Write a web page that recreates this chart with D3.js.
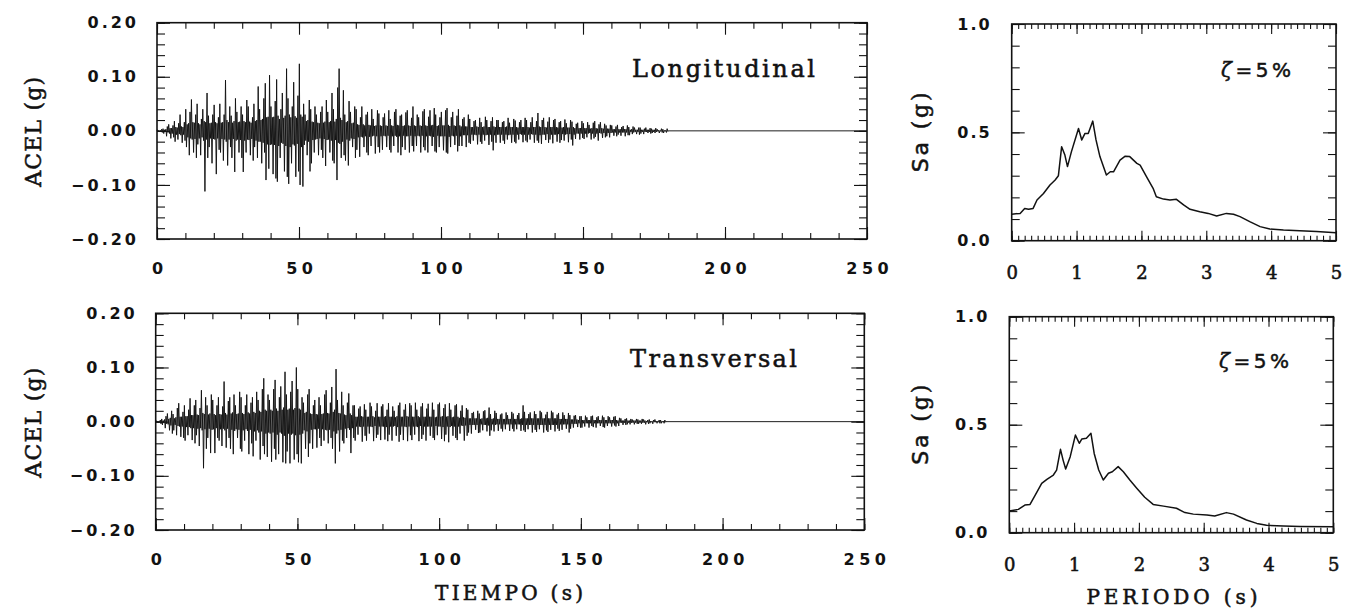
<!DOCTYPE html>
<html>
<head>
<meta charset="utf-8">
<script src="https://cdn.jsdelivr.net/npm/d3@7"></script>
<style>
  html, body { margin: 0; padding: 0; background: #ffffff; }
  svg { display: block; }
</style>
</head>
<body>
<script>
// ---------------------------------------------------------------
// Acceleration records (g), one window per second from t = 0 to 180 s:
//   *Up   – largest positive peak in the window
//   *Down – largest negative peak in the window (magnitude)
//   *Core – typical amplitude of the remaining oscillations
// After 180 s the record is quiet until its end.
// ---------------------------------------------------------------
const recordEnd = 250;

const longUp = [
  0.002,0.003,0.004,0.008,0.012,0.010,0.018,0.014,0.030,0.016,
  0.040,0.035,0.058,0.030,0.050,0.022,0.040,0.070,0.028,0.030,
  0.048,0.025,0.050,0.030,0.094,0.045,0.028,0.060,0.035,0.045,
  0.030,0.057,0.045,0.025,0.050,0.082,0.040,0.060,0.088,0.103,
  0.045,0.055,0.095,0.040,0.070,0.115,0.060,0.045,0.090,0.065,
  0.124,0.050,0.030,0.057,0.040,0.045,0.030,0.035,0.045,0.057,
  0.035,0.070,0.040,0.080,0.115,0.075,0.030,0.055,0.035,0.045,
  0.040,0.025,0.045,0.030,0.035,0.040,0.022,0.038,0.032,0.025,
  0.032,0.038,0.022,0.035,0.040,0.028,0.030,0.034,0.038,0.024,
  0.045,0.030,0.025,0.036,0.040,0.026,0.038,0.042,0.030,0.025,
  0.035,0.038,0.042,0.025,0.035,0.028,0.040,0.022,0.025,0.030,
  0.022,0.018,0.020,0.024,0.016,0.026,0.020,0.018,0.025,0.020,
  0.020,0.016,0.018,0.024,0.015,0.022,0.019,0.016,0.020,0.024,
  0.020,0.016,0.025,0.018,0.033,0.020,0.024,0.017,0.025,0.020,
  0.022,0.016,0.018,0.021,0.014,0.020,0.017,0.013,0.015,0.018,
  0.014,0.016,0.011,0.015,0.018,0.012,0.016,0.013,0.010,0.011,
  0.010,0.008,0.011,0.007,0.009,0.010,0.007,0.008,0.006,0.006,
  0.006,0.004,0.006,0.005,0.004,0.005,0.003,0.004,0.003,0.004
];
const longDown = [
  0.002,0.003,0.005,0.010,0.014,0.012,0.020,0.016,0.022,0.018,
  0.030,0.045,0.040,0.050,0.025,0.045,0.112,0.050,0.030,0.060,
  0.080,0.035,0.040,0.055,0.064,0.030,0.050,0.076,0.040,0.050,
  0.076,0.040,0.045,0.055,0.030,0.050,0.060,0.040,0.091,0.070,
  0.080,0.088,0.094,0.050,0.075,0.085,0.098,0.060,0.085,0.075,
  0.100,0.103,0.045,0.075,0.060,0.040,0.045,0.035,0.050,0.065,
  0.040,0.055,0.060,0.091,0.050,0.045,0.055,0.064,0.030,0.050,
  0.035,0.048,0.030,0.040,0.045,0.028,0.042,0.030,0.040,0.035,
  0.030,0.035,0.040,0.028,0.040,0.045,0.030,0.035,0.040,0.028,
  0.038,0.028,0.040,0.030,0.036,0.040,0.028,0.038,0.040,0.030,
  0.036,0.040,0.042,0.030,0.026,0.038,0.028,0.028,0.030,0.022,
  0.024,0.018,0.025,0.020,0.024,0.018,0.026,0.020,0.036,0.022,
  0.022,0.018,0.024,0.016,0.022,0.020,0.023,0.016,0.021,0.018,
  0.021,0.016,0.022,0.018,0.022,0.024,0.017,0.022,0.016,0.023,
  0.020,0.022,0.017,0.018,0.021,0.016,0.027,0.015,0.016,0.013,
  0.015,0.012,0.016,0.014,0.011,0.018,0.013,0.012,0.010,0.012,
  0.009,0.010,0.007,0.009,0.010,0.008,0.008,0.006,0.006,0.007,
  0.005,0.006,0.004,0.005,0.004,0.004,0.004,0.003,0.004,0.003
];
const longCore = [
  0.001,0.001,0.002,0.003,0.005,0.005,0.007,0.006,0.008,0.007,
  0.012,0.014,0.016,0.015,0.014,0.012,0.018,0.016,0.014,0.015,
  0.016,0.014,0.015,0.016,0.020,0.016,0.015,0.018,0.016,0.017,
  0.018,0.016,0.017,0.015,0.018,0.020,0.020,0.022,0.025,0.026,
  0.025,0.026,0.028,0.022,0.024,0.028,0.030,0.025,0.027,0.024,
  0.030,0.026,0.018,0.020,0.017,0.016,0.015,0.014,0.015,0.017,
  0.016,0.018,0.017,0.022,0.024,0.020,0.016,0.018,0.014,0.015,
  0.012,0.011,0.012,0.010,0.011,0.010,0.009,0.010,0.010,0.009,
  0.010,0.009,0.010,0.009,0.011,0.010,0.009,0.010,0.010,0.009,
  0.010,0.009,0.010,0.009,0.010,0.009,0.010,0.011,0.009,0.010,
  0.010,0.010,0.011,0.009,0.010,0.009,0.010,0.008,0.008,0.008,
  0.007,0.007,0.008,0.007,0.007,0.008,0.007,0.007,0.008,0.007,
  0.007,0.007,0.007,0.008,0.007,0.007,0.007,0.006,0.007,0.007,
  0.007,0.006,0.007,0.007,0.008,0.007,0.007,0.006,0.007,0.007,
  0.007,0.006,0.006,0.007,0.006,0.006,0.007,0.005,0.005,0.005,
  0.005,0.005,0.004,0.005,0.005,0.004,0.005,0.004,0.004,0.004,
  0.003,0.003,0.003,0.003,0.003,0.003,0.002,0.003,0.002,0.002,
  0.002,0.002,0.002,0.002,0.002,0.002,0.001,0.001,0.001,0.001
];

const transUp = [
  0.002,0.003,0.005,0.010,0.015,0.020,0.014,0.025,0.034,0.018,
  0.030,0.022,0.043,0.030,0.040,0.025,0.058,0.045,0.030,0.050,
  0.040,0.030,0.045,0.028,0.074,0.038,0.045,0.050,0.030,0.055,
  0.045,0.030,0.050,0.035,0.045,0.055,0.040,0.060,0.080,0.050,
  0.040,0.060,0.077,0.045,0.065,0.092,0.050,0.055,0.075,0.100,
  0.060,0.045,0.035,0.050,0.060,0.030,0.040,0.045,0.030,0.050,
  0.058,0.035,0.064,0.097,0.040,0.055,0.030,0.035,0.052,0.030,
  0.030,0.024,0.028,0.032,0.022,0.035,0.028,0.020,0.034,0.028,
  0.032,0.022,0.034,0.028,0.020,0.030,0.035,0.022,0.032,0.034,
  0.030,0.035,0.022,0.028,0.034,0.024,0.033,0.035,0.022,0.032,
  0.035,0.025,0.032,0.034,0.022,0.030,0.032,0.020,0.030,0.025,
  0.022,0.016,0.018,0.020,0.015,0.019,0.021,0.026,0.014,0.020,
  0.016,0.013,0.015,0.017,0.012,0.018,0.015,0.012,0.016,0.030,
  0.018,0.014,0.017,0.019,0.014,0.020,0.017,0.013,0.018,0.020,
  0.017,0.013,0.016,0.017,0.012,0.016,0.012,0.011,0.012,0.010,
  0.010,0.011,0.008,0.010,0.011,0.008,0.010,0.011,0.008,0.010,
  0.008,0.009,0.010,0.007,0.006,0.005,0.006,0.005,0.004,0.005,
  0.004,0.005,0.004,0.003,0.004,0.003,0.004,0.003,0.003,0.003
];
const transDown = [
  0.002,0.004,0.006,0.012,0.016,0.022,0.016,0.025,0.028,0.030,
  0.035,0.025,0.034,0.040,0.025,0.045,0.086,0.050,0.030,0.058,
  0.058,0.030,0.035,0.045,0.048,0.030,0.050,0.060,0.030,0.050,
  0.055,0.035,0.060,0.040,0.064,0.035,0.070,0.045,0.060,0.065,
  0.074,0.050,0.070,0.060,0.075,0.077,0.055,0.077,0.070,0.060,
  0.075,0.077,0.050,0.065,0.040,0.050,0.048,0.030,0.045,0.035,
  0.040,0.030,0.050,0.077,0.055,0.035,0.040,0.030,0.058,0.030,
  0.035,0.024,0.037,0.026,0.035,0.022,0.036,0.030,0.024,0.034,
  0.033,0.036,0.024,0.035,0.026,0.037,0.024,0.034,0.036,0.025,
  0.034,0.024,0.036,0.032,0.024,0.035,0.026,0.030,0.034,0.025,
  0.032,0.036,0.024,0.038,0.026,0.030,0.034,0.022,0.035,0.026,
  0.020,0.022,0.015,0.021,0.020,0.016,0.018,0.026,0.016,0.018,
  0.017,0.013,0.018,0.014,0.017,0.013,0.018,0.014,0.017,0.016,
  0.019,0.014,0.020,0.015,0.019,0.014,0.020,0.016,0.019,0.015,
  0.018,0.013,0.017,0.015,0.013,0.020,0.013,0.011,0.010,0.011,
  0.011,0.009,0.011,0.008,0.010,0.011,0.008,0.010,0.011,0.008,
  0.009,0.007,0.009,0.008,0.006,0.006,0.005,0.005,0.005,0.004,
  0.004,0.004,0.005,0.004,0.003,0.004,0.003,0.003,0.003,0.003
];
const transCore = [
  0.001,0.001,0.002,0.004,0.005,0.007,0.006,0.008,0.009,0.009,
  0.010,0.010,0.012,0.012,0.013,0.012,0.016,0.014,0.013,0.015,
  0.014,0.012,0.014,0.013,0.016,0.013,0.015,0.017,0.014,0.015,
  0.016,0.014,0.017,0.015,0.018,0.016,0.020,0.018,0.022,0.020,
  0.022,0.020,0.024,0.020,0.022,0.026,0.022,0.024,0.022,0.025,
  0.024,0.022,0.016,0.018,0.015,0.014,0.014,0.013,0.014,0.015,
  0.016,0.015,0.018,0.022,0.016,0.015,0.013,0.012,0.015,0.012,
  0.009,0.009,0.010,0.009,0.009,0.009,0.010,0.008,0.009,0.009,
  0.009,0.010,0.009,0.009,0.008,0.010,0.009,0.009,0.010,0.009,
  0.009,0.009,0.010,0.008,0.009,0.009,0.009,0.009,0.008,0.009,
  0.009,0.010,0.009,0.010,0.008,0.009,0.009,0.007,0.008,0.007,
  0.006,0.006,0.006,0.006,0.005,0.006,0.006,0.007,0.005,0.006,
  0.005,0.005,0.005,0.005,0.005,0.005,0.005,0.005,0.005,0.006,
  0.006,0.006,0.006,0.006,0.006,0.006,0.006,0.006,0.006,0.006,
  0.006,0.006,0.005,0.005,0.005,0.005,0.004,0.004,0.004,0.003,
  0.003,0.003,0.003,0.003,0.003,0.003,0.003,0.003,0.003,0.003,
  0.003,0.003,0.003,0.002,0.002,0.002,0.002,0.002,0.002,0.002,
  0.002,0.002,0.002,0.001,0.001,0.001,0.001,0.001,0.001,0.001
];

// ---------------------------------------------------------------
// Acceleration response spectra, 5% damping: period (s), Sa (g)
// ---------------------------------------------------------------
const periodLong = [0,0.13,0.2,0.26,0.33,0.39,0.49,0.59,0.67,0.72,0.77,0.82,0.86,0.92,1.03,
  1.08,1.13,1.18,1.25,1.3,1.36,1.46,1.52,1.57,1.67,1.75,1.82,1.93,1.98,2.08,2.18,2.23,2.34,
  2.44,2.54,2.65,2.75,2.9,3.03,3.16,3.31,3.42,3.52,3.67,3.83,3.98,4.19,4.44,4.7,5.0];
const saLong = [0.122,0.126,0.149,0.145,0.149,0.188,0.218,0.257,0.28,0.3,0.434,0.395,0.342,0.41,0.518,
  0.465,0.495,0.495,0.552,0.465,0.388,0.303,0.318,0.318,0.372,0.39,0.388,0.357,0.349,0.295,0.242,0.203,0.192,
  0.188,0.191,0.165,0.145,0.134,0.126,0.114,0.126,0.122,0.111,0.088,0.065,0.054,0.049,0.046,0.042,0.037];

const periodTrans = [0,0.14,0.24,0.32,0.4,0.5,0.58,0.68,0.73,0.79,0.83,0.87,0.94,1.02,1.08,
  1.12,1.19,1.26,1.31,1.38,1.45,1.53,1.59,1.68,1.76,1.86,1.97,2.09,2.22,2.38,2.58,2.71,2.84,
  3.05,3.17,3.35,3.46,3.66,3.82,3.97,4.23,4.49,5.0];
const saTrans = [0.1,0.108,0.128,0.131,0.174,0.228,0.247,0.267,0.29,0.386,0.336,0.295,0.352,0.452,0.414,
  0.434,0.437,0.46,0.367,0.29,0.244,0.275,0.282,0.306,0.282,0.244,0.205,0.164,0.131,0.123,0.113,0.093,0.086,
  0.082,0.077,0.093,0.086,0.059,0.043,0.034,0.031,0.029,0.028];

// Axis ticks
const timeTicks   = [0, 50, 100, 150, 200, 250];
const timeMinor   = d3.range(0, 251, 10);
const accelTicks  = [-0.2, -0.1, 0, 0.1, 0.2];
const accelMinor  = d3.range(-10, 11, 1).map(d => d * 0.02);
const periodTicks = [0, 1, 2, 3, 4, 5];
const periodMinor = d3.range(0, 51, 1).map(d => d / 10);
const saTicks     = [0, 0.5, 1.0];
const saMinor     = d3.range(0, 11, 1).map(d => d / 10);

const componentNames = ["Longitudinal", "Transversal"];
const dampingSymbol = "\u03B6";
const dampingValue = "=5%";

// ---------------------------------------------------------------
const W = 1352, H = 610;
const INK = "#121212";
const SANS = "'DejaVu Sans', sans-serif";
const SERIF = "'DejaVu Serif', serif";

const svg = d3.select("body").append("svg")
  .attr("width", W).attr("height", H)
  .attr("viewBox", `0 0 ${W} ${H}`);

svg.append("rect").attr("width", W).attr("height", H).attr("fill", "#ffffff");

// Spread a label's letters so that it spans a given width
function fitWidth(sel, target, anchor) {
  sel.style("letter-spacing", "0px");
  const n = sel.text().length;
  const natural = sel.node().getComputedTextLength();
  const s = Math.max(0, (target - natural) / (n - 1));
  sel.style("letter-spacing", s + "px");
  if (anchor === "middle") sel.attr("dx", s / 2);
  else if (anchor === "end") sel.attr("dx", s);
  return sel;
}

// Medium-weight serif lettering: regular face with a thin outline
function serifLabel(sel, size) {
  return sel.attr("fill", INK)
    .attr("stroke", INK).attr("stroke-width", 0.55)
    .style("font-family", SERIF).style("font-size", size + "px");
}

// Four swings per second. Where the largest peaks fall inside each
// one-second window cycles through the four possible slots.
const slotOrders = [
  ["up", "core", "core", "down"],
  ["core", "down", "up", "core"],
  ["up", "down", "core", "core"],
  ["core", "core", "up", "down"]
];
function accelPoints(up, down, core) {
  const pts = [[0, 0]];
  up.forEach((u, i) => {
    const order = slotOrders[(i * 3) % 4];
    order.forEach((kind, k) => {
      const sign = k % 2 === 0 ? 1 : -1;
      const v = kind === "up" ? up[i] : kind === "down" ? down[i] : core[i];
      pts.push([i + 0.125 + k * 0.25, sign * v]);
    });
  });
  pts.push([up.length, 0]);
  pts.push([recordEnd, 0]);
  return pts;
}

function styleTickText(sel, size, spacing, family, anchorShift, bold) {
  const t = sel.selectAll("text")
    .attr("fill", INK)
    .attr("dx", anchorShift + "px")
    .style("font-family", family)
    .style("font-size", size + "px")
    .style("letter-spacing", spacing + "px");
  if (bold) t.style("font-weight", "bold");
  else t.attr("stroke", INK).attr("stroke-width", 0.55);
}

function drawFrameAxes(g, x, y, w, h, c) {
  // bottom
  g.append("g").attr("transform", `translate(0,${h})`)
    .call(d3.axisBottom(x).tickValues(c.xMinor).tickSize(-c.xMinorLen).tickFormat(""))
    .call(s => s.select(".domain").remove());
  const bx = g.append("g").attr("transform", `translate(0,${h})`)
    .call(d3.axisBottom(x).tickValues(c.xTicks).tickSize(-c.xMajorLen)
      .tickPadding(c.xPad).tickFormat(c.xFmt))
    .call(s => s.select(".domain").remove());
  styleTickText(bx, c.xFont, c.xSpacing, c.xFamily, c.xSpacing / 2, c.xBold);
  // top
  g.append("g")
    .call(d3.axisTop(x).tickValues(c.xMinor).tickSize(-c.xMinorLen).tickFormat(""))
    .call(s => s.select(".domain").remove());
  g.append("g")
    .call(d3.axisTop(x).tickValues(c.xTicks).tickSize(-c.xMajorLen).tickFormat(""))
    .call(s => s.select(".domain").remove());
  // left
  g.append("g")
    .call(d3.axisLeft(y).tickValues(c.yMinor).tickSize(-c.yMinorLen).tickFormat(""))
    .call(s => s.select(".domain").remove());
  const ly = g.append("g")
    .call(d3.axisLeft(y).tickValues(c.yTicks).tickSize(-c.yMajorLen)
      .tickPadding(c.yPad).tickFormat(c.yFmt))
    .call(s => s.select(".domain").remove());
  styleTickText(ly, c.yFont, c.ySpacing, SANS, c.ySpacing, true);
  // right
  g.append("g").attr("transform", `translate(${w},0)`)
    .call(d3.axisRight(y).tickValues(c.yMinor).tickSize(-c.yMinorLen).tickFormat(""))
    .call(s => s.select(".domain").remove());
  g.append("g").attr("transform", `translate(${w},0)`)
    .call(d3.axisRight(y).tickValues(c.yTicks).tickSize(-c.yMajorLen).tickFormat(""))
    .call(s => s.select(".domain").remove());

  g.selectAll(".tick line").attr("stroke", INK).attr("stroke-width", 1.1);

  g.append("rect")
    .attr("x", 0).attr("y", 0).attr("width", w).attr("height", h)
    .attr("fill", "none").attr("stroke", INK).attr("stroke-width", 1.6);
}

// ---------------- acceleration panels ----------------
const accelPanels = [
  { left: 157,   top: 22.7,  right: 867,   bottom: 239, up: longUp,  down: longDown,  core: longCore,
    name: componentNames[0], nameX: 632, nameY: 77,  nameW: 183 },
  { left: 155.7, top: 313.3, right: 864.3, bottom: 530, up: transUp, down: transDown, core: transCore,
    name: componentNames[1], nameX: 630, nameY: 367, nameW: 167 }
];

accelPanels.forEach(p => {
  const w = p.right - p.left, h = p.bottom - p.top;
  const g = svg.append("g").attr("transform", `translate(${p.left},${p.top})`);
  const x = d3.scaleLinear().domain([0, 250]).range([0, w]);
  const y = d3.scaleLinear().domain([-0.2, 0.2]).range([h, 0]);

  const line = d3.line().x(d => x(d[0])).y(d => y(d[1]));
  g.append("path")
    .datum(accelPoints(p.up, p.down, p.core))
    .attr("d", line)
    .attr("fill", "none")
    .attr("stroke", INK)
    .attr("stroke-width", 0.95)
    .attr("stroke-linejoin", "miter");

  drawFrameAxes(g, x, y, w, h, {
    xTicks: timeTicks, xMinor: timeMinor, xMajorLen: 12, xMinorLen: 6,
    xPad: 24, xFmt: d3.format("d"), xFont: 16, xSpacing: 4.5, xFamily: SANS, xBold: true,
    yTicks: accelTicks, yMinor: accelMinor, yMajorLen: 13, yMinorLen: 8,
    yPad: 21, yFmt: d3.format(".2f"), yFont: 16, ySpacing: 3
  });

  const nm = serifLabel(g.append("text"), 24)
    .attr("x", p.nameX - p.left).attr("y", p.nameY - p.top)
    .text(p.name);
  fitWidth(nm, p.nameW, "start");

  const yl = serifLabel(svg.append("text"), 22)
    .attr("transform", `translate(${41},${p.top + h / 2 + 1}) rotate(-90)`)
    .attr("text-anchor", "middle")
    .text("ACEL (g)");
  fitWidth(yl, 110, "middle");
});

const xt1 = serifLabel(svg.append("text"), 20)
  .attr("x", 509).attr("y", 600)
  .attr("text-anchor", "middle")
  .text("TIEMPO (s)");
fitWidth(xt1, 148, "middle");

// ---------------- spectrum panels ----------------
const specPanels = [
  { left: 1011.7, top: 24,    right: 1336,   bottom: 240.7, T: periodLong,  Sa: saLong,  zx: 1221, zy: 77 },
  { left: 1009.3, top: 316.7, right: 1333.3, bottom: 532.7, T: periodTrans, Sa: saTrans, zx: 1219, zy: 368 }
];

specPanels.forEach(p => {
  const w = p.right - p.left, h = p.bottom - p.top;
  const g = svg.append("g").attr("transform", `translate(${p.left},${p.top})`);
  const x = d3.scaleLinear().domain([0, 5]).range([0, w]);
  const y = d3.scaleLinear().domain([0, 1]).range([h, 0]);

  const line = d3.line().x((d, i) => x(p.T[i])).y(d => y(d));
  g.append("path")
    .datum(p.Sa)
    .attr("d", line)
    .attr("fill", "none")
    .attr("stroke", INK)
    .attr("stroke-width", 1.5)
    .attr("stroke-linejoin", "round");

  drawFrameAxes(g, x, y, w, h, {
    xTicks: periodTicks, xMinor: periodMinor, xMajorLen: 10, xMinorLen: 5,
    xPad: 26, xFmt: d3.format("d"), xFont: 18, xSpacing: 0, xFamily: SERIF, xBold: false,
    yTicks: saTicks, yMinor: saMinor, yMajorLen: 13, yMinorLen: 8,
    yPad: 22, yFmt: d3.format(".1f"), yFont: 16, ySpacing: 2
  });

  const z = g.append("text")
    .attr("x", p.zx - p.left).attr("y", p.zy - p.top)
    .attr("fill", INK).attr("stroke", INK).attr("stroke-width", 0.5)
    .style("font-size", "20px");
  z.append("tspan").style("font-family", SERIF).style("font-style", "italic").text(dampingSymbol);
  z.append("tspan").style("font-family", SANS).text(dampingValue);
  fitWidth(z, 70, "start");

  const t = svg.append("text")
    .attr("transform", `translate(${928},${p.top + h / 2}) rotate(-90)`)
    .attr("text-anchor", "middle")
    .attr("fill", INK).attr("stroke", INK).attr("stroke-width", 0.55)
    .style("font-size", "22px");
  t.append("tspan").style("font-family", SANS).text("Sa");
  t.append("tspan").style("font-family", SERIF).text(" (g)");
  fitWidth(t, 80, "middle");
});

const xt2 = serifLabel(svg.append("text"), 20)
  .attr("x", 1172).attr("y", 604)
  .attr("text-anchor", "middle")
  .text("PERIODO (s)");
fitWidth(xt2, 171, "middle");
</script>
</body>
</html>
